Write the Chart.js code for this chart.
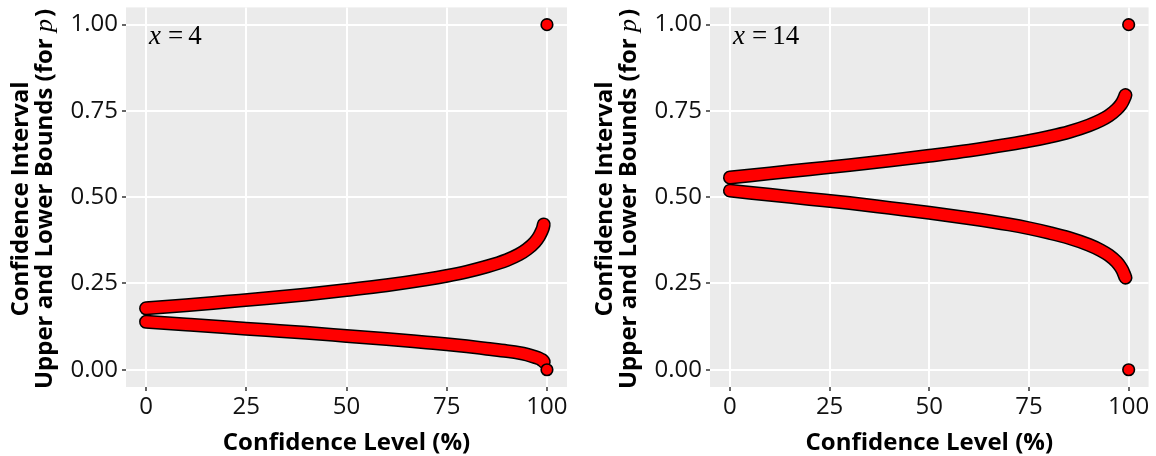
<!DOCTYPE html>
<html><head><meta charset="utf-8">
<script src="https://cdn.jsdelivr.net/npm/chart.js@4.4.1/dist/chart.umd.min.js"></script>
<style>
html,body{margin:0;padding:0;background:#fff;overflow:hidden;width:1156px;height:456px;}
canvas{position:absolute;top:0;}
#c1{left:0;} #c2{left:584px;}
</style></head><body>
<canvas id="c1" width="578" height="456"></canvas>
<canvas id="c2" width="572" height="456"></canvas>
<script>
// ---- data ----
const confLevels = [0,10,20,30,40,50,60,70,75,80,85,90,93,95,97,98,98.5,99,99.2];
const upperX4  = [0.178,0.187,0.197,0.207,0.218,0.231,0.245,0.262,0.272,0.284,0.299,0.318,0.334,0.349,0.370,0.386,0.397,0.411,0.421];
const lowerX4  = [0.139,0.131,0.123,0.115,0.107,0.098,0.089,0.079,0.074,0.068,0.061,0.054,0.049,0.044,0.037,0.033,0.030,0.026,0.023];
const upperX14 = [0.557,0.569,0.581,0.593,0.606,0.620,0.635,0.653,0.663,0.675,0.689,0.708,0.723,0.736,0.755,0.768,0.777,0.790,0.796];
const lowerX14 = [0.519,0.507,0.495,0.483,0.469,0.455,0.439,0.421,0.410,0.397,0.382,0.362,0.346,0.332,0.312,0.297,0.287,0.273,0.267];
const endLevels = [100,100];
const endValues = [0,1];
const xTickValues = [0,25,50,75,100];
const yTickValues = [0,0.25,0.5,0.75,1];
const xTitle = 'Confidence Level (%)';
const yTitleLine1 = 'Confidence Interval';
const yTitleLine2a = 'Upper and Lower Bounds (for ';
const yTitleVar = 'p';
const yTitleLine2b = ')';
const panelVar = 'x';
const panelValues = ['4','14'];

const SANS = '"Open Sans", "Noto Sans", sans-serif';
const SERIF = '"Liberation Serif", "DejaVu Serif", serif';

const bgPlugin = {
  id: 'panelBg',
  beforeDraw(chart) {
    const {ctx, chartArea: a} = chart;
    ctx.save();
    ctx.fillStyle = '#EBEBEB';
    ctx.fillRect(a.left, a.top, a.right - a.left, a.bottom - a.top);
    ctx.restore();
  }
};

const textPlugin = {
  id: 'panelText',
  afterDraw(chart, args, opts) {
    const {ctx, chartArea: a} = chart;
    ctx.save();
    ctx.fillStyle = '#000';
    ctx.textBaseline = 'alphabetic';
    // x title
    ctx.font = 'bold 24px ' + SANS;
    ctx.textAlign = 'center';
    ctx.fillText(xTitle, (a.left + a.right) / 2, 450);
    // y title, line 1
    const yc = 199;
    ctx.save();
    ctx.translate(28, yc);
    ctx.rotate(-Math.PI / 2);
    ctx.textAlign = 'center';
    ctx.fillText(yTitleLine1, 0, 0);
    ctx.restore();
    // y title, line 2 (mixed fonts)
    ctx.save();
    ctx.translate(52, yc);
    ctx.rotate(-Math.PI / 2);
    ctx.textAlign = 'left';
    const fB = 'bold 24px ' + SANS, fI = 'italic 26px ' + SERIF;
    ctx.font = fB; const w1 = ctx.measureText(yTitleLine2a).width;
    ctx.font = fI; const w2 = ctx.measureText(yTitleVar).width + 2;
    ctx.font = fB; const w3 = ctx.measureText(yTitleLine2b).width;
    let x0 = -(w1 + w2 + w3) / 2;
    ctx.font = fB; ctx.fillText(yTitleLine2a, x0, 0);
    ctx.font = fI; ctx.fillText(yTitleVar, x0 + w1, 0);
    ctx.font = fB; ctx.fillText(yTitleLine2b, x0 + w1 + w2, 0);
    ctx.restore();
    // panel label "x = n"
    ctx.textAlign = 'left';
    const lx = a.left + 23, ly = 44;
    ctx.font = 'italic 27px ' + SERIF;
    ctx.fillText(panelVar, lx, ly);
    const wx = ctx.measureText(panelVar).width;
    ctx.font = '27px ' + SERIF;
    ctx.fillText('=', lx + wx + 7, ly);
    const we = ctx.measureText('=').width;
    ctx.fillText(opts.value, lx + wx + 7 + we + 5, ly);
    ctx.restore();
  }
};

function pts(xs, ys) { return xs.map((x, i) => ({x: x, y: ys[i]})); }

function lineDs(data, color, width, order) {
  return {
    data: data, showLine: true, borderColor: color, borderWidth: width,
    pointRadius: 0, borderCapStyle: 'round', borderJoinStyle: 'round',
    cubicInterpolationMode: 'monotone', fill: false, order: order, clip: false
  };
}

function makeChart(id, upper, lower, label, padRight) {
  const up = pts(confLevels, upper), lo = pts(confLevels, lower);
  return new Chart(document.getElementById(id), {
    type: 'scatter',
    data: {
      datasets: [
        lineDs(up, '#000', 14, 5),
        lineDs(up, '#FF0000', 11, 4),
        lineDs(lo, '#000', 14, 3),
        lineDs(lo, '#FF0000', 11, 2),
        { data: pts(endLevels, endValues), showLine: false, pointRadius: 5.8,
          pointBackgroundColor: '#FF0000', pointBorderColor: '#000', pointBorderWidth: 1.6, order: 1, clip: false }
      ]
    },
    options: {
      responsive: false, animation: false, devicePixelRatio: 1, events: [],
      layout: { padding: { top: 6, right: padRight, left: 0, bottom: 0 } },
      plugins: { legend: { display: false }, tooltip: { enabled: false }, panelText: { value: label } },
      scales: {
        x: {
          type: 'linear', min: -5, max: 105,
          afterBuildTicks: s => { s.ticks = xTickValues.map(v => ({value: v})); },
          afterFit: s => { s.height = 69; s.paddingLeft = 0; s.paddingRight = 0; },
          ticks: { callback: v => String(v), color: '#111', font: { family: SANS, size: 24 }, padding: 2, maxRotation: 0, autoSkip: false },
          grid: { color: '#FFFFFF', lineWidth: 2, tickColor: '#333', tickWidth: 1.5, tickLength: 4, drawTicks: true },
          border: { display: false }
        },
        y: {
          type: 'linear', min: -0.05, max: 1.05,
          afterBuildTicks: s => { s.ticks = yTickValues.map(v => ({value: v})); },
          afterFit: s => { s.width = 126; s.paddingTop = 0; s.paddingBottom = 0; },
          ticks: { callback: v => v.toFixed(2), color: '#111', font: { family: SANS, size: 24 }, padding: 4, autoSkip: false },
          grid: { color: '#FFFFFF', lineWidth: 2, tickColor: '#333', tickWidth: 1.5, tickLength: 4, drawTicks: true },
          border: { display: false }
        }
      }
    },
    plugins: [bgPlugin, textPlugin]
  });
}

makeChart('c1', upperX4, lowerX4, panelValues[0], 11);
makeChart('c2', upperX14, lowerX14, panelValues[1], 3);
</script>
</body></html>
